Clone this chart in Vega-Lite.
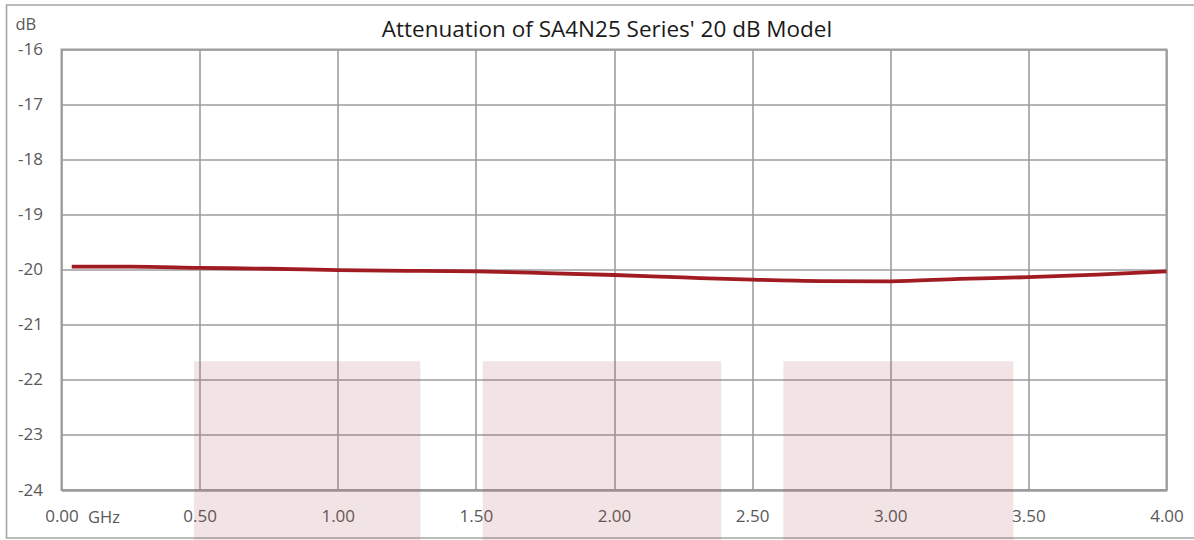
{
  "$schema": "https://vega.github.io/schema/vega-lite/v6.json",
  "width": 1105,
  "height": 440.5,
  "autosize": {"type": "none"},
  "padding": {"left": 61.5, "top": 49.5, "right": 27.5, "bottom": 50},
  "background": "white",
  "title": {
    "text": "Attenuation of SA4N25 Series' 20 dB Model",
    "font": "Open Sans",
    "fontSize": 22.5,
    "fontWeight": "normal",
    "color": "#1a1a1a",
    "anchor": "middle",
    "frame": "group",
    "dx": -7,
    "dy": 47,
    "offset": 10
  },
  "config": {
    "view": {"stroke": "#9d9da1", "strokeWidth": 2},
    "axis": {
      "gridColor": "#9d9da1",
      "gridWidth": 1.6,
      "gridOpacity": 1,
      "domain": false,
      "ticks": false,
      "labelFont": "Open Sans",
      "labelFontSize": 17,
      "labelColor": "#595959",
      "titleFont": "Open Sans",
      "titleFontSize": 16.5,
      "titleFontWeight": "normal",
      "titleColor": "#595959"
    }
  },
  "datasets": {
    "attenuation": [
      {"freq": 0.037, "db": -19.945},
      {"freq": 0.25, "db": -19.945},
      {"freq": 0.5, "db": -19.965},
      {"freq": 0.75, "db": -19.982},
      {"freq": 1.0, "db": -20.005},
      {"freq": 1.25, "db": -20.02},
      {"freq": 1.5, "db": -20.03},
      {"freq": 1.75, "db": -20.06},
      {"freq": 2.0, "db": -20.095},
      {"freq": 2.25, "db": -20.14},
      {"freq": 2.5, "db": -20.18},
      {"freq": 2.75, "db": -20.205},
      {"freq": 3.0, "db": -20.21},
      {"freq": 3.25, "db": -20.165},
      {"freq": 3.5, "db": -20.135},
      {"freq": 3.75, "db": -20.09},
      {"freq": 4.0, "db": -20.03}
    ],
    "bands": [
      {"start": 0.48, "end": 1.299, "top": -21.66, "bottom": -24.91},
      {"start": 1.525, "end": 2.388, "top": -21.66, "bottom": -24.91},
      {"start": 2.613, "end": 3.446, "top": -21.66, "bottom": -24.91}
    ],
    "frame": [
      {"left": -0.199, "right": 4.14, "top": -15.192, "bottom": -24.872}
    ]
  },
  "layer": [
    {
      "data": {"name": "frame"},
      "mark": {"type": "rect", "fill": null, "stroke": "#a6a6a6", "strokeWidth": 1.6},
      "encoding": {
        "x": {"field": "left", "type": "quantitative", "scale": {"domain": [0, 4], "nice": false, "zero": false},
          "axis": {"values": [0, 0.5, 1, 1.5, 2, 2.5, 3, 3.5, 4], "format": ".2f", "labelPadding": 18, "labelFlush": false,
            "title": "GHz", "titleAngle": 0, "titleX": 42, "titleY": 27, "titleAlign": "center", "titleBaseline": "middle"}},
        "x2": {"field": "right"},
        "y": {"field": "top", "type": "quantitative", "scale": {"domain": [-24, -16], "nice": false, "zero": false},
          "axis": {"values": [-24, -23, -22, -21, -20, -19, -18, -17, -16],
            "labelExpr": "'-' + abs(datum.value)", "labelPadding": 19, "labelFlush": false,
            "title": "dB", "titleAngle": 0, "titleX": -46.5, "titleY": -25, "titleAlign": "left", "titleBaseline": "middle"}},
        "y2": {"field": "bottom"}
      }
    },
    {
      "data": {"name": "attenuation"},
      "mark": {"type": "line", "color": "#a01c22", "strokeWidth": 3.8, "interpolate": "monotone"},
      "encoding": {
        "x": {"field": "freq", "type": "quantitative"},
        "y": {"field": "db", "type": "quantitative"}
      }
    },
    {
      "data": {"name": "bands"},
      "mark": {"type": "rect", "color": "#a84b4b", "opacity": 0.15},
      "encoding": {
        "x": {"field": "start", "type": "quantitative"},
        "x2": {"field": "end"},
        "y": {"field": "top", "type": "quantitative"},
        "y2": {"field": "bottom"}
      }
    }
  ]
}
